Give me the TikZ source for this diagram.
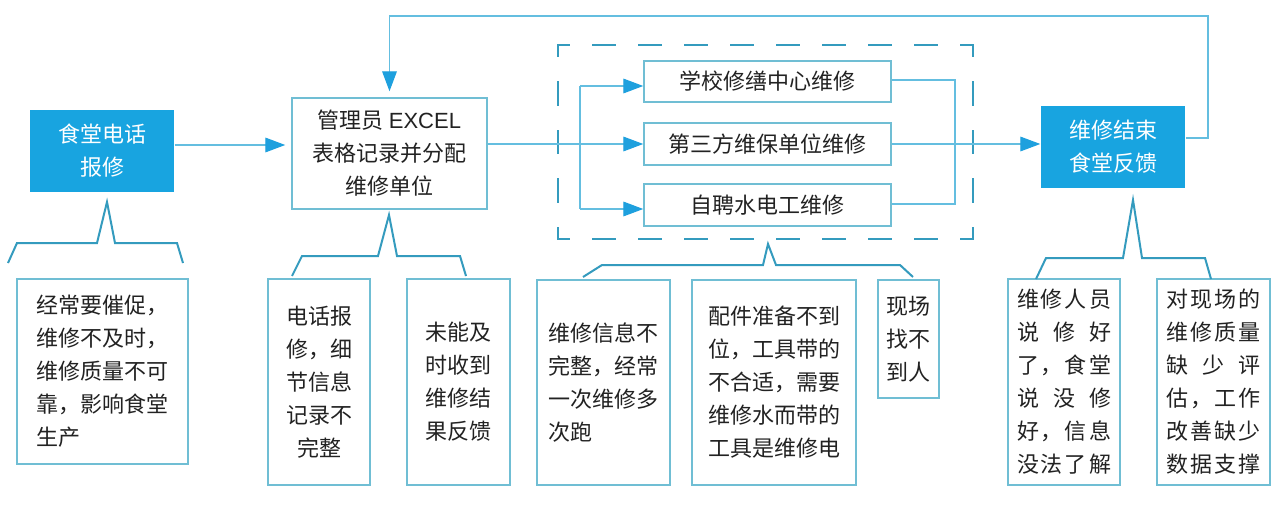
\documentclass[tikz,border=0pt]{standalone}
\usepackage{fontspec}
\setmainfont{Noto Sans CJK SC}
\newfontfamily\latinfont{Liberation Sans}
\usetikzlibrary{arrows.meta,calc}
\definecolor{fillblue}{RGB}{24,164,224}
\definecolor{linec}{RGB}{100,190,224}
\definecolor{arrc}{RGB}{30,160,222}
\definecolor{boxc}{RGB}{112,190,212}
\definecolor{brc}{RGB}{52,155,190}
\definecolor{txt}{RGB}{34,34,34}
\newcommand{\jl}[1]{\makebox[70.5pt][s]{#1}}
\begin{document}
\begin{tikzpicture}[x=0.75pt,y=-0.75pt,
  base/.style={font=\fontsize{16.5pt}{24.75pt}\selectfont, text=txt, inner sep=0pt, line width=1.1pt},
  filled/.style={base, fill=fillblue, text=white, align=center},
  plain/.style={base, draw=boxc, fill=white},
  conn/.style={draw=linec, line width=0.9pt},
  arr/.style={conn, -{Triangle[length=15pt,width=11pt,color=arrc]}},
  brace/.style={draw=brc, line width=1.5pt, line join=miter},
  dsh/.style={draw=brc, line width=1.9pt, line cap=rect}
]
\fill[white] (0,0) rectangle (1280,506);
\useasboundingbox (0,0) rectangle (1280,506);

% top row
\node[filled, minimum width=108pt, minimum height=61.5pt] (b1) at (102,151) {食堂电话\\报修};
\node[plain, align=center, minimum width=146.25pt, minimum height=83.25pt] (admin) at (389.5,153.5) {管理员 {\latinfont EXCEL}\\表格记录并分配\\维修单位};
\node[plain, minimum width=185.25pt, minimum height=30.75pt] (u1) at (767.5,81.5) {学校修缮中心维修};
\node[plain, minimum width=185.25pt, minimum height=31.5pt] (u2) at (767.5,144) {第三方维保单位维修};
\node[plain, minimum width=185.25pt, minimum height=31.5pt] (u3) at (767.5,205) {自聘水电工维修};
\node[filled, minimum width=108pt, minimum height=61.5pt] (endb) at (1113,147) {维修结束\\食堂反馈};

% dashed group
\coordinate (dtl) at (558,45);
\coordinate (dtr) at (973,45);
\coordinate (dbl) at (558,239);
\coordinate (dbr) at (973,239);
\draw[dsh, dash pattern=on 16.5pt off 18pt, dash phase=8.25pt] (dtl) -- (dtr);
\draw[dsh, dash pattern=on 16.5pt off 18pt, dash phase=8.25pt] (dbl) -- (dbr);
\draw[dsh, dash pattern=on 16.5pt off 19.875pt, dash phase=8.25pt] (dtl) -- (dbl);
\draw[dsh, dash pattern=on 16.5pt off 19.875pt, dash phase=8.25pt] (dtr) -- (dbr);

% bottom boxes
\node[plain, align=left, minimum width=128.25pt, minimum height=138.75pt] (n1) at (102.5,371.5) {经常要催促，\\维修不及时，\\维修质量不可\\靠，影响食堂\\生产};
\node[plain, align=center, minimum width=76.5pt, minimum height=154.5pt] (n2) at (319,382) {电话报\\修，细\\节信息\\记录不\\完整};
\node[plain, align=left, minimum width=77.25pt, minimum height=154.5pt] (n3) at (458.5,382) {未能及\\时收到\\维修结\\果反馈};
\node[plain, align=left, minimum width=99.75pt, minimum height=153.75pt] (n4) at (603.5,382.5) {维修信息不\\完整，经常\\一次维修多\\次跑};
\node[plain, align=left, minimum width=123pt, minimum height=153.75pt] (n5) at (774,382.5) {配件准备不到\\位，工具带的\\不合适，需要\\维修水而带的\\工具是维修电};
\node[plain, align=left, minimum width=45.75pt, minimum height=88.5pt] (n6) at (908.5,339) {现场\\找不\\到人};
\node[plain, align=center, minimum width=84pt, minimum height=154.5pt] (n7) at (1064,382) {\jl{维\hfill 修\hfill 人\hfill 员}\\\jl{说\hfill 修\hfill 好}\\\jl{了\hfill ，\hfill 食\hfill 堂}\\\jl{说\hfill 没\hfill 修}\\\jl{好\hfill ，\hfill 信\hfill 息}\\\jl{没\hfill 法\hfill 了\hfill 解}};
\node[plain, align=center, minimum width=84.75pt, minimum height=154.5pt] (n8) at (1213.5,382) {\jl{对\hfill 现\hfill 场\hfill 的}\\\jl{维\hfill 修\hfill 质\hfill 量}\\\jl{缺\hfill 少\hfill 评}\\\jl{估\hfill ，\hfill 工\hfill 作}\\\jl{改\hfill 善\hfill 缺\hfill 少}\\\jl{数\hfill 据\hfill 支\hfill 撑}};

% connectors
\coordinate (m) at (0,145);
\draw[arr, shorten >=4.5pt] (b1.east |- m) -- (admin.west |- m);
\draw[arr] (admin.east |- u2.west) -- (u2.west);
\coordinate (lb1) at (580,86);
\coordinate (lb3) at (580,209);
\draw[conn] (lb1) -- (lb3);
\draw[arr] (lb1) -- (lb1 -| u1.west);
\draw[arr] (lb3) -- (lb3 -| u3.west);
\coordinate (rb1) at (955,80);
\coordinate (rb3) at (955,204);
\draw[conn] (u1.east |- rb1) -- (rb1) -- (rb3) -- (u3.east |- rb3);
\draw[arr] (u2.east) -- (endb.west |- u2.east);
\coordinate (fb1) at (1208,138);
\coordinate (fb2) at (1208,16);
\draw[arr, shorten >=4.5pt] (endb.east |- fb1) -- (fb1) -- (fb2) -| (admin.north);

% callout brackets
\draw[brace] (8,263) -- (17,243) -- (97,243) -- (107,202) -- (115,243) -- (177,243) -- (183,263);
\draw[brace] (292,276) -- (302,256) -- (378,256) -- (389,215) -- (397,256) -- (460,256) -- (466,276);
\draw[brace] (583,277) -- (602,265) -- (763,265) -- (768,244) -- (776,265) -- (900,265) -- (913,277);
\draw[brace] (1036,279) -- (1046,258) -- (1123,258) -- (1133,200) -- (1142,258) -- (1205,258) -- (1211,279);
\end{tikzpicture}
\end{document}
